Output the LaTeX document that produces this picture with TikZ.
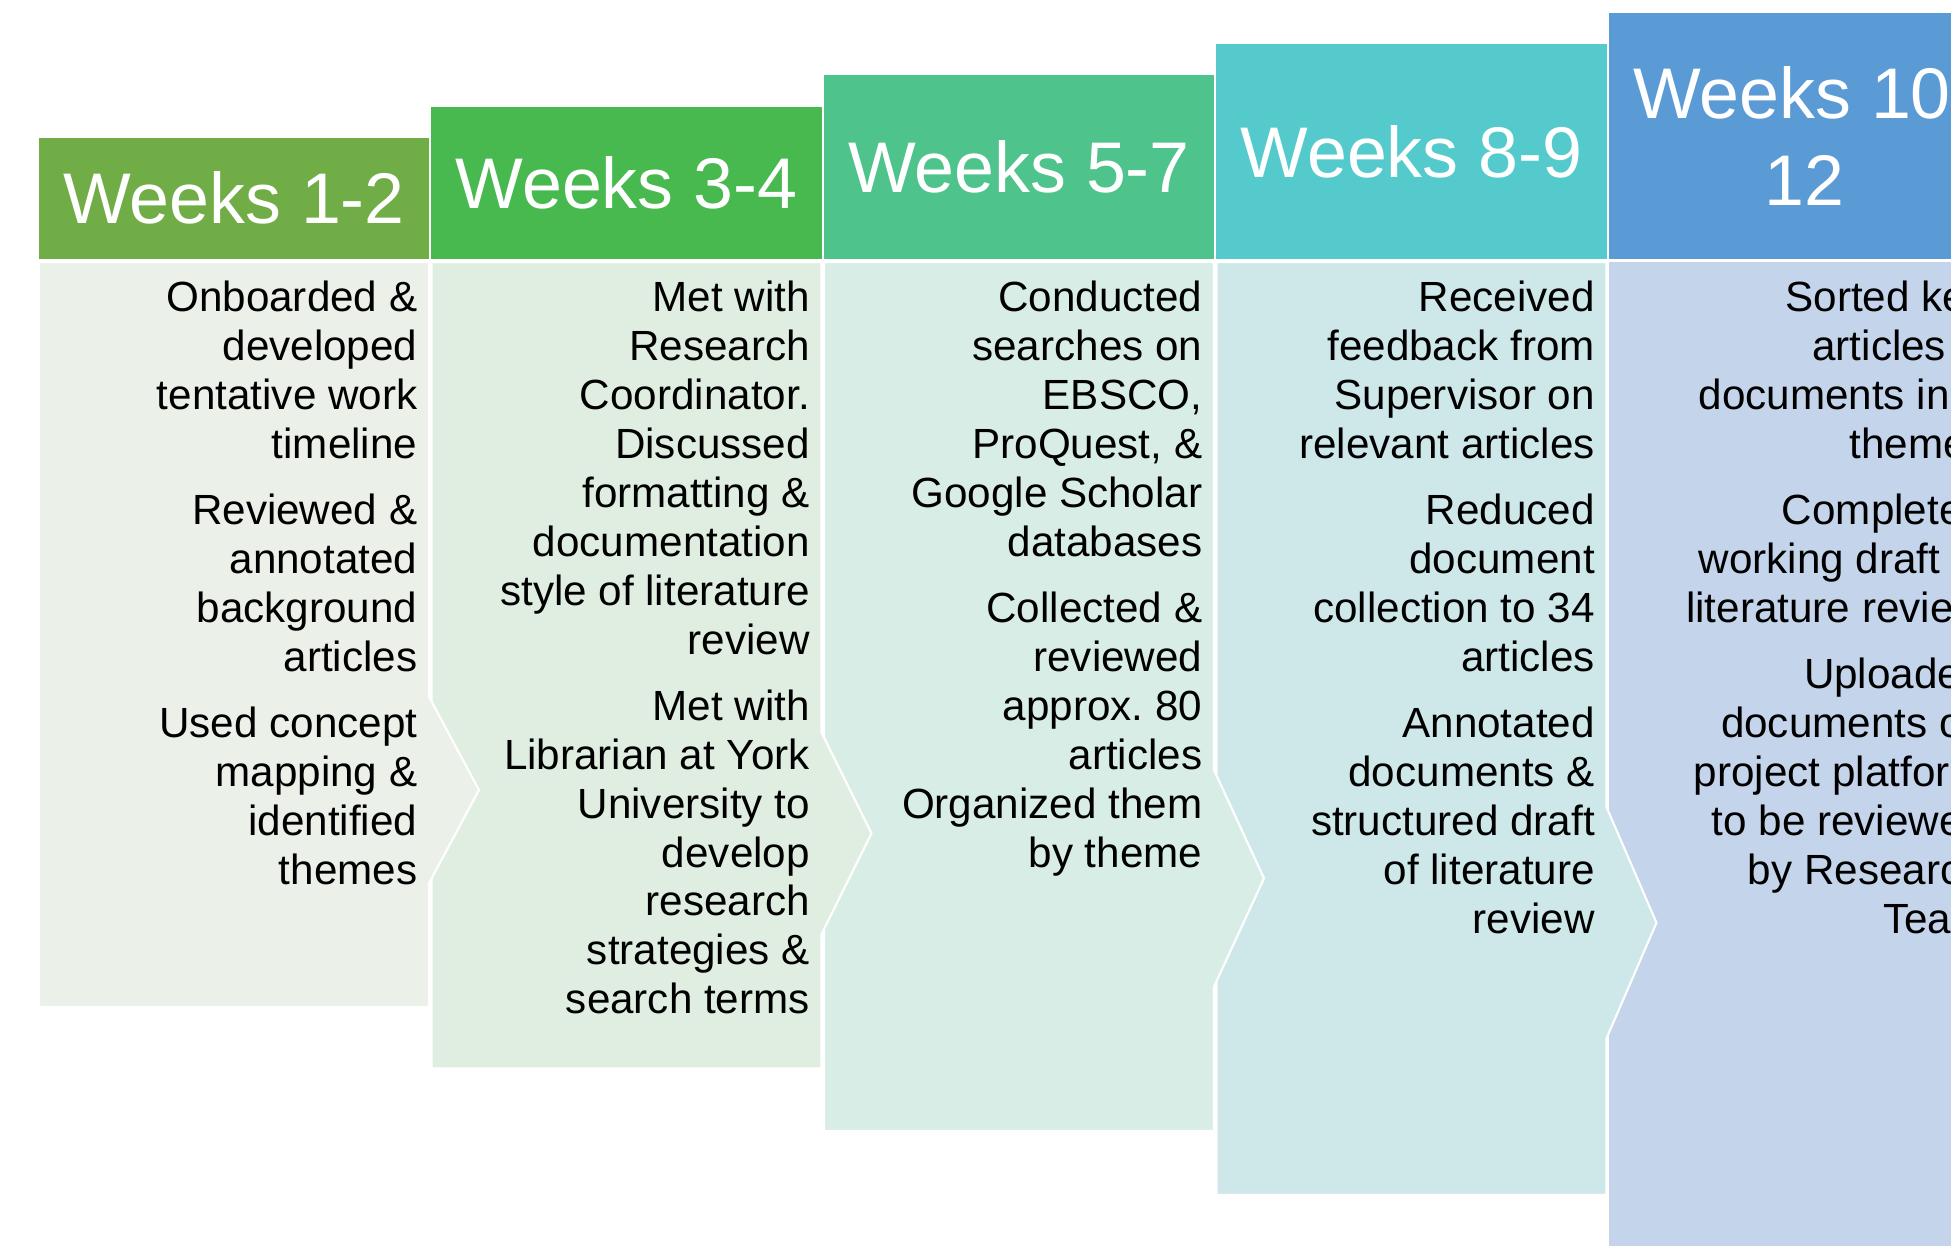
\documentclass[tikz,border=0pt]{standalone}
\usepackage{fontspec}
\setmainfont{Liberation Sans}

\definecolor{headA}{HTML}{70AD47}
\definecolor{headB}{HTML}{47B94F}
\definecolor{headC}{HTML}{4EC38B}
\definecolor{headD}{HTML}{54CACC}
\definecolor{headE}{HTML}{5B9BD5}
\definecolor{bodyA}{HTML}{EBF0E9}
\definecolor{bodyB}{HTML}{E0EEE1}
\definecolor{bodyC}{HTML}{D8EDE5}
\definecolor{bodyD}{HTML}{CEE8EA}
\definecolor{bodyE}{HTML}{C4D4EA}

\tikzset{
  weekhead/.style={inner sep=0pt, minimum width=3.9cm, text=white, align=center,
    font=\fontsize{20.4}{24.75}\selectfont},
  tasktext/.style={inner sep=0pt, anchor=base east, align=right,
    font=\fontsize{12}{13.9}\selectfont},
  taskline/.style={inner sep=0pt, anchor=base west,
    font=\fontsize{12}{13.9}\selectfont},
}

\begin{document}
\begin{tikzpicture}[x=0.01cm, y=-0.01cm]
\useasboundingbox (0, 0) rectangle (1951, 1245);
\clip (0, 0) rectangle (1951, 1245);

% bodies, right to left so each chevron lies on the next column
\fill[bodyE] (1609, 262) rectangle (1960, 1250);
\foreach \i/\bot/\tip/\half/\shade in {4/1195/922.7/115.6/bodyD,
    3/1131/878.3/108.3/bodyC, 2/1068.5/833.3/100.8/bodyB, 1/1007/790/93.3/bodyA} {
  \pgfmathsetmacro\L{39 + 392.5*(\i - 1)}
  \pgfmathsetmacro\R{\L + 390}
  \filldraw[fill=\shade, draw=white, line width=0.6pt] (\L, 262) -- (\R, 262)
    -- (\R, \tip - \half) -- (\R + 50, \tip) -- (\R, \tip + \half)
    -- (\R, \bot) -- (\L, \bot) -- cycle;
}

% week headers
\node[weekhead, fill=headA, minimum height=1.213cm] (wk12) at (234, 198.35) {Weeks 1-2};
\node[weekhead, fill=headB, minimum height=1.524cm] (wk34) at (626.5, 182.8) {Weeks 3-4};
\node[weekhead, fill=headC, minimum height=1.835cm] (wk57) at (1019, 167.25) {Weeks 5-7};
\node[weekhead, fill=headD, minimum height=2.146cm] (wk89) at (1411.5, 151.7) {Weeks 8-9};
\node[weekhead, fill=headE, minimum height=2.457cm] (wk1012) at (1804, 136.15) {Weeks 10\hphantom{-}\\12};

% tasks (placed at the baseline of their last line)
\node[tasktext] (task12) at (418, 884.4) {Onboarded \&\\developed\\tentative work\\timeline\\[4.95pt]
  Reviewed \&\\annotated\\background\\articles\\[4.95pt]
  Used concept\\mapping \&\\identified\\themes};
\node[tasktext] (task34) at (810.5, 1013.7) {Met with\\Research\\Coordinator.\\Discussed\\formatting \&\\documentation\\style of literature\\review\\[4.95pt]
  Met with\\Librarian at York\\University to\\develop\\research\\strategies \&\\search terms};
\node[tasktext] (task57) at (1203, 867) {Conducted\\searches on\\EBSCO,\\ProQuest, \&\\Google Scholar\\databases\\[4.95pt]
  Collected \&\\reviewed\\approx.\ 80\\articles\\Organized them\\by theme};
\node[tasktext] (task89) at (1595.5, 933.3) {Received\\feedback from\\Supervisor on\\relevant articles\\[4.95pt]
  Reduced\\document\\collection to 34\\articles\\[4.95pt]
  Annotated\\documents \&\\structured draft\\of literature\\review};
\foreach \x/\y/\t [count=\k] in {1784.7/311.7/Sorted ke, 1811.7/360.6/articles,
    1697.9/409.5/documents in, 1848.7/458.4/theme, 1781.2/524.7/Complete,
    1698/573.6/working draft, 1685.5/622.5/literature revie, 1803.3/688.8/Uploade,
    1720.3/737.7/documents o, 1693.2/786.6/project platfor, 1711.1/835.5/to be reviewe,
    1747.2/884.4/by Researc, 1882.4/933.3/Tea}
  \node[taskline] (task1012\k) at (\x, \y) {\t};
\end{tikzpicture}
\end{document}
